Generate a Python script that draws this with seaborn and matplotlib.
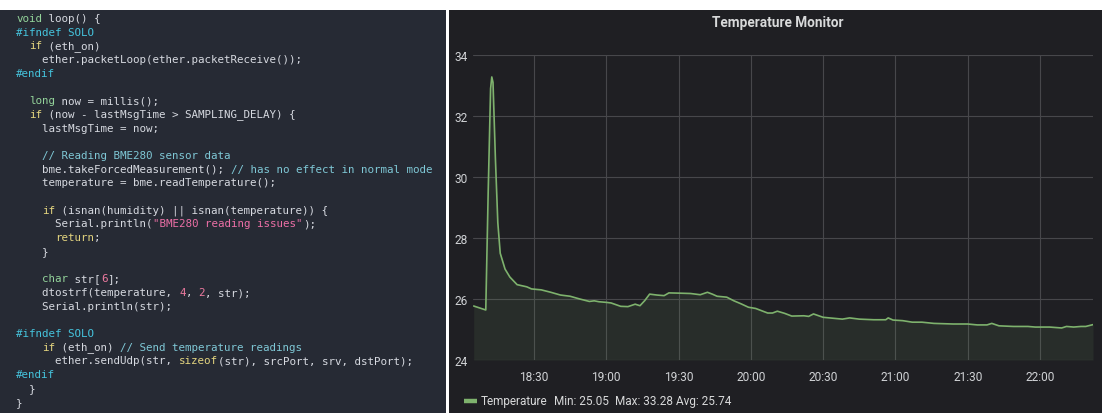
import pandas as pd
import matplotlib
matplotlib.use("Agg")
import matplotlib.pyplot as plt
import matplotlib.dates as mdates
from matplotlib.patches import Rectangle
from matplotlib.lines import Line2D
import seaborn as sns

# --------------------------------------------------
# DATA
# --------------------------------------------------

times = [
    "18:05:00", "18:10:00", "18:11:00", "18:12:00", "18:12:30", "18:13:00",
    "18:14:00", "18:15:00", "18:16:00", "18:18:00", "18:20:00", "18:23:00",
    "18:27:00", "18:29:00", "18:33:00", "18:37:00", "18:41:00", "18:45:00",
    "18:49:00", "18:53:00", "18:55:00", "18:57:00", "19:00:00", "19:02:00",
    "19:06:00", "19:09:00", "19:12:00", "19:14:00", "19:16:00", "19:18:00",
    "19:21:00", "19:24:00", "19:26:00", "19:31:00", "19:35:00", "19:39:00",
    "19:42:00", "19:44:00", "19:46:00", "19:50:00", "19:53:00", "19:56:00",
    "19:59:00", "20:02:00", "20:05:00", "20:07:00", "20:09:00", "20:11:00",
    "20:14:00", "20:17:00", "20:22:00", "20:24:00", "20:26:00", "20:30:00",
    "20:34:00", "20:38:00", "20:41:00", "20:45:00", "20:51:00", "20:56:00",
    "20:57:00", "20:59:00", "21:03:00", "21:07:00", "21:11:00", "21:16:00",
    "21:24:00", "21:30:00", "21:34:00", "21:38:00", "21:40:00", "21:43:00",
    "21:49:00", "21:55:00", "21:58:00", "22:04:00", "22:09:00", "22:11:00",
    "22:14:00", "22:17:00", "22:19:00", "22:22:00",
]
temperature = [
    25.77, 25.64, 29.5, 32.9, 33.28, 33.1,
    30.6, 28.5, 27.5, 26.98, 26.72, 26.47,
    26.4, 26.33, 26.3, 26.22, 26.13, 26.09,
    26.0, 25.92, 25.94, 25.91, 25.89, 25.87,
    25.76, 25.75, 25.83, 25.78, 25.95, 26.16,
    26.13, 26.11, 26.2, 26.19, 26.18, 26.14,
    26.22, 26.16, 26.09, 26.06, 25.94, 25.84,
    25.73, 25.69, 25.6, 25.54, 25.54, 25.6,
    25.53, 25.44, 25.45, 25.43, 25.51, 25.4,
    25.37, 25.34, 25.38, 25.34, 25.32, 25.32,
    25.38, 25.31, 25.29, 25.24, 25.24, 25.2,
    25.18, 25.18, 25.15, 25.15, 25.2, 25.12,
    25.1, 25.1, 25.08, 25.08, 25.05, 25.1,
    25.08, 25.1, 25.1, 25.16,
]
y_ticks = [24, 26, 28, 30, 32, 34]
series_name = "Temperature"
stat_names = ["Min", "Max", "Avg"]
stat_values = [25.05, 33.28, 25.74]
chart_title = "Temperature Monitor"

# code shown in the editor panel: (text, token kind) pieces per line
code_lines = [
    [("void", "type"), (" loop() {", "text")],
    [("#ifndef SOLO", "pre")],
    [("  ", "text"), ("if", "ctl"), (" (eth_on)", "text")],
    [("    ether.packetLoop(ether.packetReceive());", "text")],
    [("#endif", "pre")],
    [],
    [("  ", "text"), ("long", "type"), (" now = millis();", "text")],
    [("  ", "text"), ("if", "ctl"), (" (now - lastMsgTime > SAMPLING_DELAY) {", "text")],
    [("    lastMsgTime = now;", "text")],
    [],
    [("    ", "text"), ("// Reading BME280 sensor data", "comment")],
    [("    bme.takeForcedMeasurement(); ", "text"), ("// has no effect in normal mode", "comment")],
    [("    temperature = bme.readTemperature();", "text")],
    [],
    [("    ", "text"), ("if", "ctl"), (" (isnan(humidity) || isnan(temperature)) {", "text")],
    [("      Serial.println(", "text"), ("\"BME280 reading issues\"", "string"), (");", "text")],
    [("      ", "text"), ("return", "ctl"), (";", "text")],
    [("    }", "text")],
    [],
    [("    ", "text"), ("char", "type"), (" str[", "text"), ("6", "num"), ("];", "text")],
    [("    dtostrf(temperature, ", "text"), ("4", "num"), (", ", "text"), ("2", "num"), (", str);", "text")],
    [("    Serial.println(str);", "text")],
    [],
    [("#ifndef SOLO", "pre")],
    [("    ", "text"), ("if", "ctl"), (" (eth_on) ", "text"), ("// Send temperature readings", "comment")],
    [("      ether.sendUdp(str, ", "text"), ("sizeof", "ctl"), ("(str), srcPort, srv, dstPort);", "text")],
    [("#endif", "pre")],
    [("  }", "text")],
    [("}", "text")],
]

token_colors = {
    "text": "#d6d9e0",
    "type": "#93d39a",
    "ctl": "#e3d47f",
    "pre": "#45c3dc",
    "comment": "#7fc8d6",
    "string": "#ec6fa6",
    "num": "#ee7aa0",
}

# --------------------------------------------------
# FIGURE
# --------------------------------------------------

sns.set_theme(style="dark")
plt.rcParams["font.family"] = ["Roboto", "DejaVu Sans"]

W, H = 1102, 414
fig = plt.figure(figsize=(W / 100, H / 100), dpi=100, facecolor="white")

def fx(px):
    return px / W

def fy(py):
    return 1 - py / H

# panel backgrounds
fig.add_artist(Rectangle((0, 0), fx(446), fy(11), transform=fig.transFigure,
                         facecolor="#262a34", edgecolor="none", zorder=0))
fig.add_artist(Rectangle((fx(449), 0), 1 - fx(449), fy(11), transform=fig.transFigure,
                         facecolor="#1f1f23", edgecolor="none", zorder=0))

# -------------------- CODE PANEL --------------------

char_w = 6.52
line_h = 13.7
for i, pieces in enumerate(code_lines):
    col = 0
    for text, kind in pieces:
        fig.text(fx(16 + col * char_w), fy(19 + i * line_h), text,
                 family="DejaVu Sans Mono", fontsize=7.8,
                 color=token_colors[kind], va="center", ha="left")
        col += len(text)

# -------------------- GRAFANA PANEL --------------------

df = pd.DataFrame({
    "time": pd.to_datetime("2020-01-01 " + pd.Series(times), format="%Y-%m-%d %H:%M:%S"),
    "temperature": temperature,
})

ax = fig.add_axes([fx(473), fy(361), fx(1093) - fx(473), fy(56) - fy(361)])
ax.set_facecolor("#1f1f23")

sns.lineplot(data=df, x="time", y="temperature", ax=ax, color="#7eb26d", linewidth=1.2)
ax.fill_between(df["time"], df["temperature"], y_ticks[0], color="#7eb26d",
                alpha=0.1, linewidth=0)

ax.set_ylim(y_ticks[0], y_ticks[-1])
ax.set_yticks(y_ticks)
ax.set_xlim(pd.Timestamp("2020-01-01 18:04:42"), pd.Timestamp("2020-01-01 22:22:00"))
ax.xaxis.set_major_locator(mdates.MinuteLocator(byminute=[0, 30]))
ax.xaxis.set_major_formatter(mdates.DateFormatter("%H:%M"))

ax.grid(True, color="#47474b", linewidth=0.8)
ax.set_axisbelow(True)
for s in ax.spines.values():
    s.set_visible(False)
ax.tick_params(axis="both", length=0, colors="#d0d2d5", labelsize=8.6)
ax.tick_params(axis="x", pad=7)
ax.tick_params(axis="y", pad=4)
ax.set_xlabel("")
ax.set_ylabel("")

fig.text(fx(778), fy(23), chart_title, ha="center", va="center",
         fontsize=9.8, fontweight="bold", color="#d8d9da")

# legend row
fig.add_artist(Line2D([fx(464), fx(477)], [fy(402), fy(402)], transform=fig.transFigure,
                      color="#7eb26d", linewidth=3.2, solid_capstyle="butt"))
legend_x = [481, 554, 615, 676]
legend_texts = [series_name] + [f"{n}: {v:.2f}" for n, v in zip(stat_names, stat_values)]
for x, t in zip(legend_x, legend_texts):
    fig.text(fx(x), fy(402), t, ha="left", va="center", fontsize=8.5, color="#d8d9da")

fig.savefig("out.png", dpi=100, facecolor="white")
